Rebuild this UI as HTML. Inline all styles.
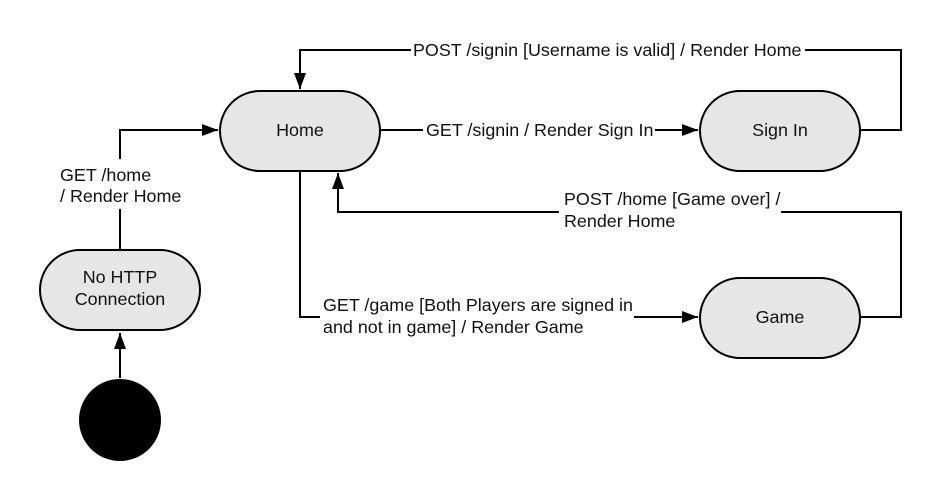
<!DOCTYPE html>
<html><head><style>body{margin:0;background:#fff}svg{display:block}text{font-family:"Liberation Sans",sans-serif;font-size:17.9px;fill:#111}</style></head>
<body>
<svg width="942" height="499" viewBox="0 0 942 499" xmlns="http://www.w3.org/2000/svg">
<defs><marker id="a" markerWidth="16" markerHeight="12" refX="16" refY="6" orient="auto" markerUnits="userSpaceOnUse"><path d="M0,0 L16,6 L0,12 z" fill="#000"/></marker></defs>
<g fill="none" stroke="#000" stroke-width="2">
<path d="M120,250 V209 M120,159 V130 H218" marker-end="url(#a)"/>
<path d="M120,378 V333" marker-end="url(#a)"/>
<path d="M380,130 H423 M655,130 H698" marker-end="url(#a)"/>
<path d="M860,130 H901 V50 H805 M411,50 H300 V89" marker-end="url(#a)"/>
<path d="M860,317 H901 V212 H781 M559,212 H338 V173" marker-end="url(#a)"/>
<path d="M300,171 V317 H320 M634,317 H698" marker-end="url(#a)"/>
</g>
<g fill="#e6e6e6" stroke="#000" stroke-width="2">
<rect x="220" y="91" width="160" height="80" rx="40"/>
<rect x="700" y="91" width="160" height="80" rx="40"/>
<rect x="700" y="278" width="160" height="80" rx="40"/>
<rect x="40" y="250" width="160" height="80" rx="40"/>
</g>
<circle cx="120" cy="420" r="41" fill="#000"/>
<text x="300" y="136" text-anchor="middle">Home</text>
<text x="780" y="136" text-anchor="middle">Sign In</text>
<text x="780" y="323" text-anchor="middle">Game</text>
<text x="120" y="283" text-anchor="middle">No HTTP</text>
<text x="120" y="305" text-anchor="middle">Connection</text>
<text x="60" y="181">GET /home</text>
<text x="60" y="202">/ Render Home</text>
<text x="413" y="56">POST /signin [Username is valid] / Render Home</text>
<text x="426" y="136">GET /signin / Render Sign In</text>
<text x="564" y="205">POST /home [Game over] /</text>
<text x="564" y="227">Render Home</text>
<text x="323" y="311">GET /game [Both Players are signed in</text>
<text x="323" y="333">and not in game] / Render Game</text>
</svg>
</body></html>
